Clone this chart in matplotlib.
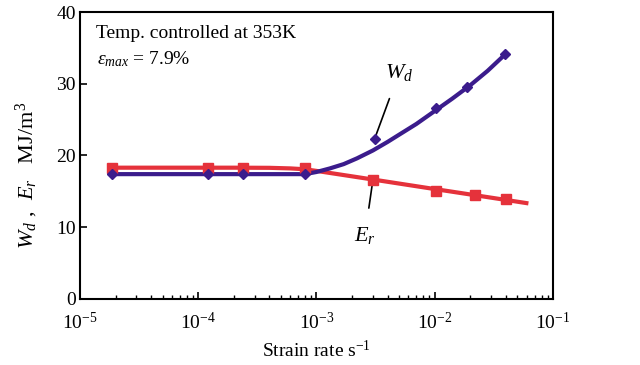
import matplotlib
matplotlib.use("Agg")
import matplotlib.pyplot as plt
from matplotlib.ticker import LogLocator, FixedLocator, NullFormatter

plt.rcParams['font.family'] = ['Liberation Serif', 'DejaVu Serif']
plt.rcParams['mathtext.fontset'] = 'custom'
plt.rcParams['mathtext.rm'] = 'Liberation Serif'
plt.rcParams['mathtext.it'] = 'Liberation Serif:italic'

PURPLE = '#3b1c8c'
RED = '#e5323b'

# measured points
wd_rate = [1.85e-5, 1.2e-4, 2.4e-4, 8.0e-4, 3.1e-3, 1.03e-2, 1.88e-2, 3.95e-2]
wd_val = [17.4, 17.4, 17.4, 17.4, 22.3, 26.6, 29.5, 34.2]
er_rate = [1.85e-5, 1.2e-4, 2.4e-4, 8.0e-4, 3.0e-3, 1.03e-2, 2.2e-2, 4.0e-2]
er_val = [18.3, 18.3, 18.3, 18.2, 16.6, 15.0, 14.5, 14.0]

# trend curves
wd_fit_rate = [1.85e-5, 8.0e-4, 1.0e-3, 1.3e-3, 1.7e-3, 2.2e-3, 3.0e-3, 4.0e-3,
               5.0e-3, 7.0e-3, 1.0e-2, 1.4e-2, 2.0e-2, 2.8e-2, 4.0e-2]
wd_fit_val = [17.4, 17.4, 17.7, 18.2, 18.8, 19.6, 20.7, 21.9,
              22.9, 24.4, 26.2, 27.9, 29.8, 31.8, 34.2]
er_fit_rate = [1.85e-5, 2.0e-4, 4.0e-4, 6.0e-4, 8.0e-4, 1.0e-3, 3.0e-3, 1.0e-2, 2.2e-2, 6.2e-2]
er_fit_val = [18.3, 18.3, 18.28, 18.2, 18.08, 17.85, 16.65, 15.32, 14.46, 13.32]

fig = plt.figure(figsize=(6.4, 3.65), dpi=100)
ax = fig.add_axes([0.125, 0.181, 0.739, 0.786])

ax.plot(er_fit_rate, er_fit_val, color=RED, lw=3, solid_capstyle='butt', zorder=2)
ax.plot(wd_fit_rate, wd_fit_val, color=PURPLE, lw=3, solid_capstyle='butt', zorder=3)
ax.plot(er_rate, er_val, ls='none', marker='s', ms=6.5, color=RED, zorder=4)
ax.plot(wd_rate, wd_val, ls='none', marker='D', ms=5, color=PURPLE, zorder=5)

ax.set_xscale('log')
ax.set_xlim(1e-5, 1e-1)
ax.set_ylim(0, 40)
ax.yaxis.set_major_locator(FixedLocator([0, 10, 20, 30, 40]))
ax.xaxis.set_major_locator(LogLocator(base=10, numticks=10))
ax.xaxis.set_minor_locator(LogLocator(base=10, subs=range(2, 10), numticks=10))
ax.xaxis.set_minor_formatter(NullFormatter())

for s in ax.spines.values():
    s.set_linewidth(1.5)
ax.tick_params(axis='both', which='major', direction='in', length=5, width=1.2,
               labelsize=14)
ax.tick_params(axis='x', which='major', pad=9)
ax.tick_params(axis='y', which='major', pad=3)
ax.tick_params(axis='x', which='minor', direction='in', length=3, width=1)

ax.set_xlabel('Strain rate s$^{-1}$', fontsize=14, labelpad=5)
ax.set_ylabel('$W_d$ ,  $E_r$   MJ/m$^3$', fontsize=16)
ax.yaxis.set_label_coords(-0.084, 0.43)

ax.text(0.034, 0.955, 'Temp. controlled at 353K', transform=ax.transAxes,
        fontsize=14, va='top', ha='left')
ax.text(0.036, 0.87, r'$\varepsilon_{max}$ = 7.9%', transform=ax.transAxes,
        fontsize=14, va='top', ha='left')

ax.annotate('$W_d$', xy=(3.1e-3, 22.3), xytext=(5.0e-3, 31.6), fontsize=16,
            ha='center', va='center',
            arrowprops=dict(arrowstyle='-', color='black', lw=1.2, shrinkA=10, shrinkB=2))
ax.annotate('$E_r$', xy=(3.0e-3, 16.6), xytext=(2.57e-3, 8.9), fontsize=16,
            ha='center', va='center',
            arrowprops=dict(arrowstyle='-', color='black', lw=1.2, shrinkA=10, shrinkB=2))

fig.savefig('out.png', dpi=100)
